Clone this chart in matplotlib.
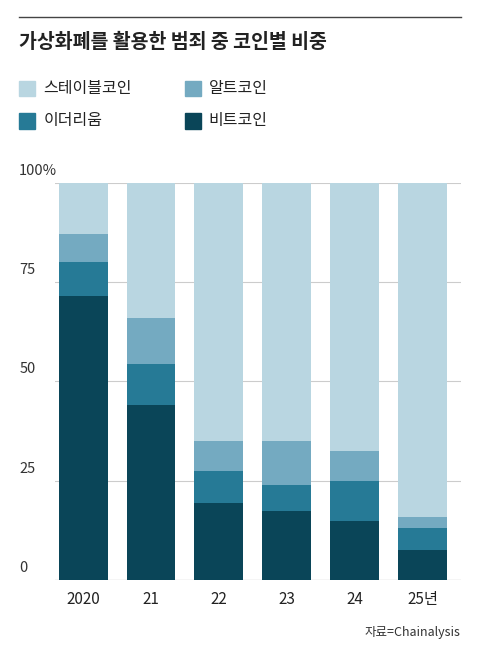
import matplotlib.pyplot as plt

plt.rcParams['font.family'] = ['Noto Sans CJK KR', 'DejaVu Sans']

years = ['2020', '21', '22', '23', '24', '25년']
bitcoin = [71.5, 44, 19.5, 17.5, 15, 7.5]
ethereum = [8.5, 10.5, 8, 6.5, 10, 5.5]
altcoin = [7, 11.5, 7.5, 11, 7.5, 3]
stable = [100 - b - e - a for b, e, a in zip(bitcoin, ethereum, altcoin)]

c_stable, c_alt, c_eth, c_btc = '#b9d6e1', '#74aac1', '#267a96', '#0a4558'

fig = plt.figure(figsize=(4.8, 6.6), dpi=100)
ax = fig.add_axes([0.115, 0.121, 0.845, 0.602])
x = range(len(years))
w = 0.72
b1 = bitcoin
b2 = [a + b for a, b in zip(b1, ethereum)]
b3 = [a + b for a, b in zip(b2, altcoin)]
ax.bar(x, bitcoin, w, color=c_btc, zorder=2)
ax.bar(x, ethereum, w, bottom=b1, color=c_eth, zorder=2)
ax.bar(x, altcoin, w, bottom=b2, color=c_alt, zorder=2)
ax.bar(x, stable, w, bottom=b3, color=c_stable, zorder=2)
ax.set_ylim(0, 100)
ax.set_xlim(-0.41, 5.56)
for v in [0, 25, 50, 75, 100]:
    ax.axhline(v, color='#cccccc' if v else '#555555', lw=0.8, zorder=1)
    fig.text(0.04, 0.121 + 0.602 * v / 100 + 0.008, f'{v}%' if v == 100 else str(v),
             fontsize=10.5, color='#333333', va='bottom', ha='left')
ax.set_yticks([])
ax.set_xticks(list(x))
ax.set_xticklabels(years, fontsize=11, color='#222222')
ax.tick_params(axis='x', length=0, pad=8)
for s in ax.spines.values():
    s.set_visible(False)

fig.add_artist(plt.Line2D([0.04, 0.96], [0.975, 0.975], color='#444444', lw=1))
fig.text(0.04, 0.935, '가상화폐를 활용한 범죄 중 코인별 비중', fontsize=14, fontweight='bold',
         va='center', color='#222222')
items = [(c_stable, '스테이블코인', 0.04, 0.866), (c_alt, '알트코인', 0.385, 0.866),
         (c_eth, '이더리움', 0.04, 0.817), (c_btc, '비트코인', 0.385, 0.817)]
for c, t, xx, yy in items:
    fig.add_artist(plt.Rectangle((xx, yy - 0.012), 0.033, 0.024, color=c, transform=fig.transFigure))
    fig.text(xx + 0.05, yy, t, fontsize=11.5, va='center', color='#222222')
fig.text(0.96, 0.042, '자료=Chainalysis', fontsize=9, ha='right', va='center', color='#333333')
fig.savefig('out.png', dpi=100)
